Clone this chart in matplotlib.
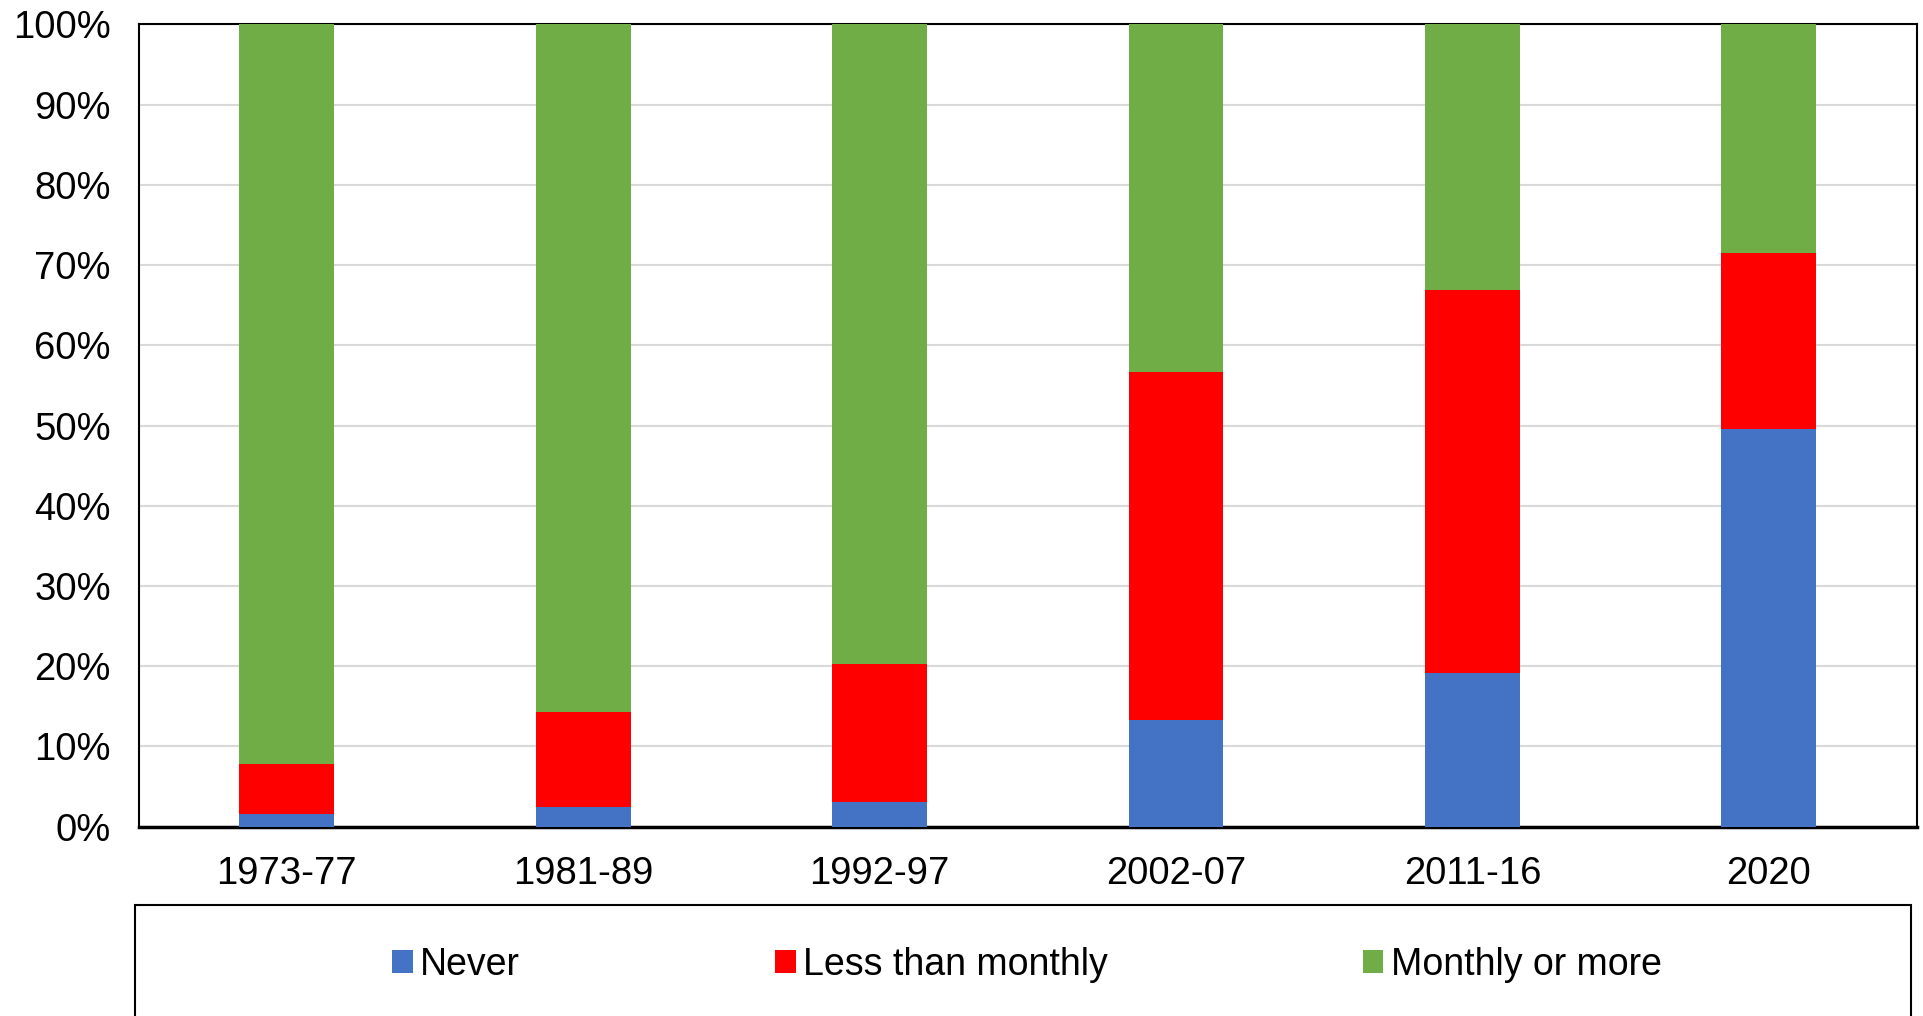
import matplotlib
matplotlib.use("Agg")
import matplotlib.pyplot as plt
from matplotlib.patches import Rectangle, Patch
import numpy as np

plt.rcParams['font.family'] = ['Liberation Sans', 'DejaVu Sans']

categories = ["1973-77", "1981-89", "1992-97", "2002-07", "2011-16", "2020"]
never = [1.6, 2.4, 3.1, 13.3, 19.1, 49.6]
less_than_monthly = [6.2, 11.9, 17.2, 43.4, 47.8, 21.9]
monthly_or_more = [92.2, 85.7, 79.7, 43.3, 33.1, 28.5]
series_names = ["Never", "Less than monthly", "Monthly or more"]
colors = ["#4472C4", "#FF0000", "#70AD47"]

fig = plt.figure(figsize=(19.23, 10.16), dpi=100)
ax = fig.add_axes([0.0721, 0.1864, 0.9969 - 0.0721, 0.9759 - 0.1864])

x = np.arange(len(categories))
w = 0.32
bottom = np.zeros(len(categories))
for vals, name, c in zip([never, less_than_monthly, monthly_or_more], series_names, colors):
    ax.bar(x, vals, w, bottom=bottom, color=c, label=name, zorder=3)
    bottom += np.array(vals)

ax.set_xlim(-0.5, len(categories) - 0.5)
ax.set_ylim(0, 100)
ax.set_yticks(np.arange(0, 101, 10))
ax.set_yticklabels([f"{v}%" for v in range(0, 101, 10)], fontsize=27.5)
ax.set_xticks(x)
ax.set_xticklabels(categories, fontsize=27.5)
ax.tick_params(axis='both', length=0)
ax.tick_params(axis='x', pad=21)
ax.tick_params(axis='y', pad=20)
ax.yaxis.grid(True, color="#d9d9d9", linewidth=1.5, zorder=0)
ax.set_axisbelow(True)
for s in ax.spines.values():
    s.set_color("black")
    s.set_linewidth(1.5)
ax.spines['bottom'].set_linewidth(2.5)

# legend box
rect = Rectangle((135 / 1923, -0.02), (1911 - 135) / 1923, 1 - 905 / 1016 + 0.02,
                 transform=fig.transFigure, facecolor="white", edgecolor="black",
                 linewidth=1.5, clip_on=False)
fig.patches.append(rect)

handles = [Patch(facecolor=c, edgecolor='none') for c in colors]
fig.legend(handles, series_names, loc='center', bbox_to_anchor=(0.534, 1 - 965 / 1016),
           ncol=3, frameon=False, fontsize=27, handlelength=0.55, handleheight=0.55,
           handletextpad=0.2, columnspacing=6.8)

fig.savefig("out.png", dpi=100)
